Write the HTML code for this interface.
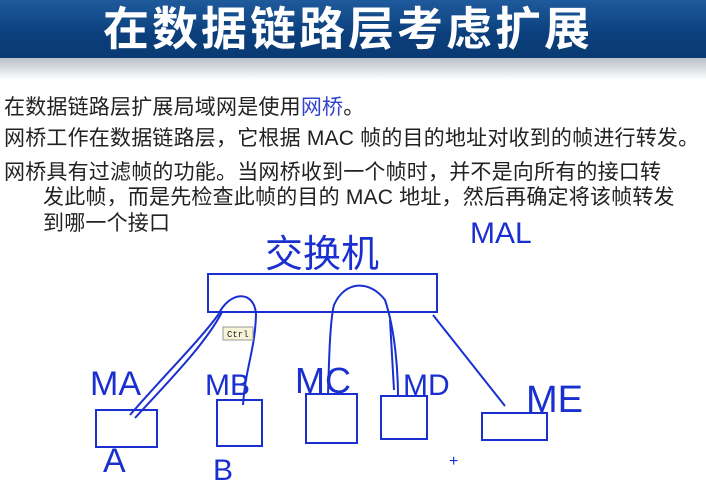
<!DOCTYPE html>
<html><head><meta charset="utf-8"><style>
body{margin:0;width:706px;height:504px;background:#fff;overflow:hidden;position:relative;font-family:"Liberation Sans","Noto Sans CJK SC",sans-serif}
#bar{position:absolute;left:0;top:0;width:706px;height:58px;background:linear-gradient(#1f5a9c,#0b3f7c 60%,#0a3a72)}
#sh{position:absolute;left:0;top:58px;width:706px;height:22px;background:linear-gradient(#b8c0c8,#fff)}
#title{position:absolute;left:0;width:696px;top:2px;text-align:center;color:#fff;font-size:46px;font-weight:bold;line-height:54px;letter-spacing:3px}
.t{position:absolute;font-size:21px;color:#222;white-space:nowrap;line-height:24px;letter-spacing:0.2px}
</style></head><body>
<div id="bar"></div><div id="sh"></div>
<div id="title">在数据链路层考虑扩展</div>
<div class="t" style="left:4px;top:96px">在数据链路层扩展局域网是使用<span style="color:#3344cc">网桥</span>。</div>
<div class="t" style="left:4px;top:127px">网桥工作在数据链路层，它根据 MAC 帧的目的地址对收到的帧进行转发。</div>
<div class="t" style="left:4px;top:161px">网桥具有过滤帧的功能。当网桥收到一个帧时，并不是向所有的接口转</div>
<div class="t" style="left:43px;top:186px">发此帧，而是先检查此帧的目的 MAC 地址，然后再确定将该帧转发</div>
<div class="t" style="left:43px;top:212px">到哪一个接口</div>
<svg width="706" height="504" style="position:absolute;left:0;top:0" fill="none" stroke="#1a2fd0" stroke-width="2">
<rect x="208" y="274" width="229" height="38"/>
<rect x="96" y="410" width="61" height="37"/>
<rect x="217" y="400" width="45" height="46"/>
<rect x="306" y="394" width="51" height="49"/>
<rect x="381" y="396" width="46" height="43"/>
<rect x="482" y="413" width="65" height="27"/>
<path d="M433 315 L505 406"/>
<path d="M130 415 C160 380 200 340 218 315 C230 290 255 290 256 315 C255 350 245 370 243 405"/>
<path d="M135 418 C165 385 205 345 222 312"/>
<path d="M328 395 C329 360 330 320 334 305 C345 280 370 280 385 300 C395 330 398 370 398 397"/>
<path d="M390 320 L394 390"/>
<g stroke="none" fill="#1a2fd0" font-family="'Liberation Sans','Noto Sans CJK SC',sans-serif">
<text x="265" y="267" font-size="38">交换机</text>
<text x="470" y="243" font-size="30">MAL</text>
<text x="90" y="395" font-size="34">MA</text>
<text x="205" y="395" font-size="30">MB</text>
<text x="295" y="393" font-size="36">MC</text>
<text x="403" y="395" font-size="30">MD</text>
<text x="526" y="412" font-size="38">ME</text>
<text x="103" y="472" font-size="34">A</text>
<text x="213" y="480" font-size="30">B</text>
<text x="449" y="466" font-size="16">+</text>
</g>
<rect x="223" y="327" width="30" height="13" fill="#f8f4d8" stroke="#999" stroke-width="1"/>
<text x="227" y="337" font-size="9" fill="#222" stroke="none" font-family="'Liberation Mono',monospace">Ctrl</text>
</svg>
</body></html>
